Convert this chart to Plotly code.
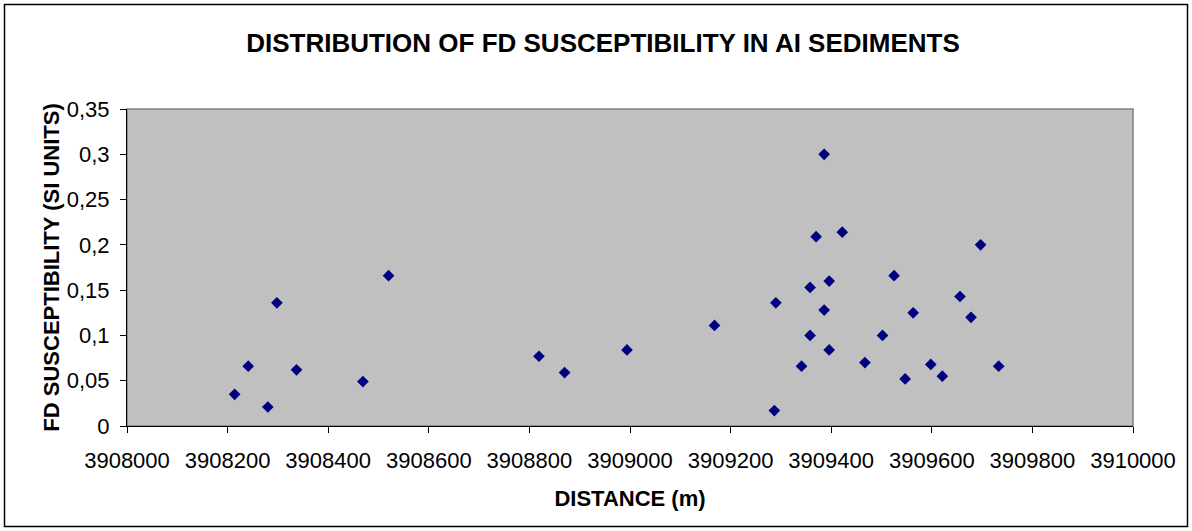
import plotly.graph_objects as go

distance_m = [3908214, 3908241, 3908280, 3908298, 3908337, 3908469, 3908520,
              3908819, 3908870, 3908994, 3909168, 3909287, 3909290, 3909341,
              3909358, 3909358, 3909370, 3909386, 3909386, 3909396, 3909396,
              3909422, 3909467, 3909502, 3909525, 3909547, 3909563, 3909598,
              3909621, 3909656, 3909678, 3909697, 3909733]
fd_susceptibility = [0.035, 0.066, 0.021, 0.136, 0.062, 0.049, 0.166,
                     0.077, 0.059, 0.084, 0.111, 0.017, 0.136, 0.066,
                     0.100, 0.153, 0.209, 0.300, 0.128, 0.160, 0.084,
                     0.214, 0.070, 0.100, 0.166, 0.052, 0.125, 0.068,
                     0.055, 0.143, 0.120, 0.200, 0.066]

x_range = [3908000, 3910000]
y_range = [0, 0.35]

W, H = 1192, 531
ML, MR, MT, MB = 127, 59, 109, 105
FONT = "Liberation Sans, Arial, sans-serif"

fig = go.Figure()
fig.add_trace(go.Scatter(
    x=distance_m, y=fd_susceptibility, mode="markers",
    marker=dict(symbol="diamond", size=9, color="#000080",
                line=dict(width=0)),
    showlegend=False,
))

pw = W - ML - MR
ph = H - MT - MB

def px2paper_x(px):
    return (px - ML) / pw

def py2paper_y(py):
    return (H - MB - py) / ph

fig.update_layout(
    width=W, height=H,
    margin=dict(l=ML, r=MR, t=MT, b=MB, pad=0),
    paper_bgcolor="white",
    plot_bgcolor="#C0C0C0",
    separators=",.",
    font=dict(family=FONT, size=22, color="black"),
    title=dict(text="<b>DISTRIBUTION OF FD SUSCEPTIBILITY IN AI SEDIMENTS</b>",
               x=px2paper_x(603), xref="paper", xanchor="center",
               y=1 - 42.5 / H, yanchor="middle",
               font=dict(family=FONT, size=26, color="black")),
    xaxis=dict(range=x_range, dtick=200, tick0=3908000, tickformat="d",
               showgrid=False, zeroline=False,
               showline=True, linecolor="black", linewidth=1,
               ticks="outside", ticklen=6, tickcolor="black",
               tickfont=dict(size=22), ticklabelstandoff=9,
               title=dict(text="<b>DISTANCE (m)</b>", font=dict(size=22),
                          standoff=18)),
    yaxis=dict(range=y_range, dtick=0.05, tick0=0,
               showgrid=False, zeroline=False,
               showline=True, linecolor="black", linewidth=1,
               ticks="outside", ticklen=6, tickcolor="black",
               tickfont=dict(size=22), ticklabelstandoff=6,
               title=dict(text="<b>FD SUSCEPTIBILITY (SI UNITS)</b>",
                          font=dict(size=22), standoff=1)),
    shapes=[
        dict(type="rect", xref="x domain", yref="y domain",
             x0=0, x1=1, y0=0, y1=1, line=dict(color="#808080", width=1.5),
             layer="below"),
        dict(type="rect", xref="paper", yref="paper",
             x0=px2paper_x(4.5), x1=px2paper_x(1187.5),
             y0=py2paper_y(526.5), y1=py2paper_y(4.5),
             line=dict(color="black", width=1.5), layer="above"),
    ],
)

fig.write_html("out.html", config={"displayModeBar": False},
               post_script="document.body.style.margin='0';")
